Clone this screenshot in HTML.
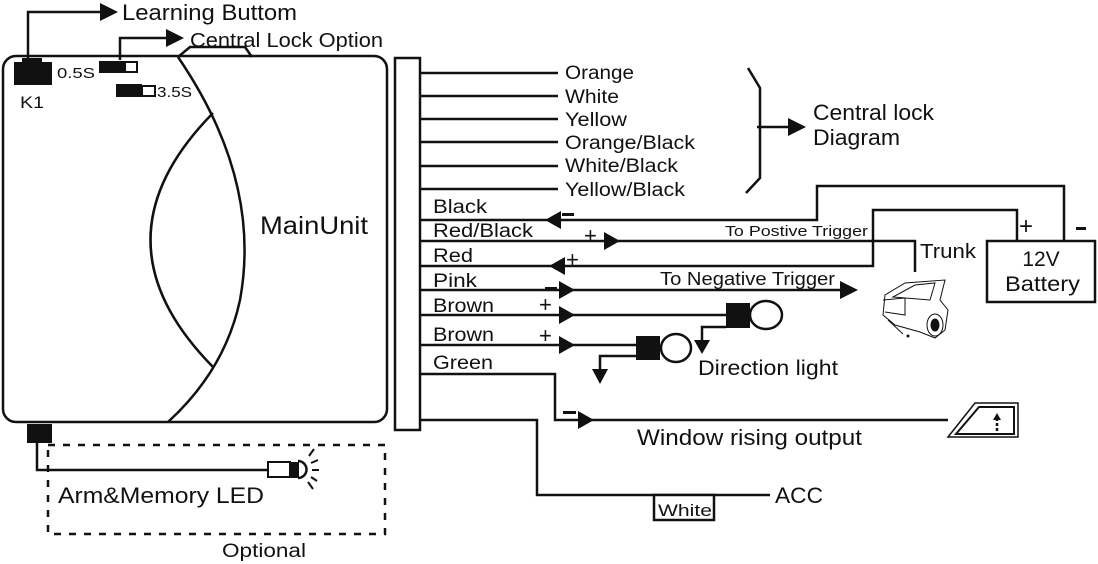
<!DOCTYPE html>
<html><head><meta charset="utf-8"><style>
html,body{margin:0;padding:0;background:#fff;}
svg{display:block;font-family:"Liberation Sans",Arial,sans-serif;}
</style></head><body>
<svg width="1098" height="564" viewBox="0 0 1098 564" xmlns="http://www.w3.org/2000/svg">
<g fill="none" stroke="#111" stroke-width="2.5">
<rect x="3" y="56" width="384" height="366" rx="13"/>
<path d="M178,57 Q262,180 240,300 Q225,370 168,422"/>
<path d="M213,113 Q88,240 213,367"/>
<path d="M178,57 L190,47 L245,47 L252,57"/>
<path d="M28,58 V12 H102"/>
<path d="M120,60 V38 H168"/>
<rect x="125" y="62" width="12" height="10" stroke-width="2" fill="#fff"/>
<rect x="142" y="86" width="13" height="10" stroke-width="2" fill="#fff"/>
<rect x="395" y="58" width="25" height="372"/>
<path d="M420,73H558M420,96H558M420,119H558M420,142H558M420,166H558M420,189H558"/>
<path d="M748,68 L760,88 V178 L746,193 M757,127 H790"/>
<path d="M420,220 H817 V186 H1064 V241"/>
<path d="M420,241 H915 V272"/>
<path d="M420,266 H873 V210 H1017 V241"/>
<path d="M420,290 H842"/>
<path d="M420,315 H726"/>
<path d="M726,327 H702 V343"/>
<path d="M420,345 H636"/>
<path d="M636,356 H600 V372"/>
<path d="M420,374 H555 V420 H948"/>
<path d="M420,420 H537 V495 H770"/>
<rect x="987" y="241" width="108" height="61"/>
<ellipse cx="766" cy="315" rx="16" ry="14"/>
<ellipse cx="676" cy="348" rx="15" ry="14"/>
<rect x="654" y="495" width="60" height="25" fill="#fff"/>
<path d="M37,440 V470 H268"/>
<rect x="268" y="462" width="22" height="15" stroke-width="2"/>
<path d="M298,461 A8,8 0 0 1 298,478" stroke-width="2.5"/>
<path d="M309,456 L314,449 M311,463 L318,460 M312,470 L319,470 M311,477 L317,481 M308,482 L313,489" stroke-width="2"/>
<rect x="48" y="445" width="337" height="89" stroke-dasharray="7,8"/>
<path d="M948,437 L975,403 H1018 V437 Z" stroke-width="1.5"/>
<path d="M956,434 L979,407 H1014 V434 Z" stroke-width="2"/>
<path d="M997,431 V420" stroke-width="2.5" stroke-dasharray="3,2"/>
<g stroke-width="1">
<path d="M885,295 L905,283 L945,280 L940,300 L948,310 L945,330 L935,338 L920,332 L895,325 L883,315 Z"/>
<path d="M893,297 L915,285 L935,283 L930,300 Z"/>
<path d="M883,300 L905,298 L905,315 L885,312"/>
<ellipse cx="935" cy="325" rx="8" ry="11"/>
<ellipse cx="935" cy="325" rx="4" ry="6" fill="#111"/>
<path d="M888,320 L903,334"/>
</g>
</g>
<g fill="#111" stroke="none">
<rect x="22" y="58" width="20" height="5"/>
<rect x="14" y="62" width="38" height="23"/>
<rect x="99" y="61" width="26" height="12"/>
<rect x="116" y="84" width="26" height="13"/>
<rect x="27" y="424" width="25" height="19"/>
<rect x="290" y="462" width="9" height="16"/>
<rect x="726" y="303" width="24" height="25"/>
<rect x="636" y="336" width="24" height="24"/>
<path d="M100,3 L118,12 L100,21 Z"/>
<path d="M166,29 L184,38 L166,47 Z"/>
<path d="M788,118 L806,127 L788,136 Z"/>
<path d="M545,220 L561,211 L561,229 Z"/>
<path d="M620,241 L604,232 L604,250 Z"/>
<path d="M549,266 L565,257 L565,275 Z"/>
<path d="M575,290 L559,281 L559,299 Z"/>
<path d="M840,281 L858,290 L840,299 Z"/>
<path d="M575,315 L559,306 L559,324 Z"/>
<path d="M575,345 L559,336 L559,354 Z"/>
<path d="M594,420 L578,411 L578,429 Z"/>
<path d="M694,340 L710,340 L702,354 Z"/>
<path d="M592,369 L608,369 L600,384 Z"/>
<path d="M997,413 L993,420 H1001 Z"/>
<rect x="562" y="213" width="12" height="3"/>
<rect x="545" y="287" width="12" height="3"/>
<rect x="563" y="411" width="13" height="3"/>
<rect x="1076" y="227" width="10" height="3"/>
<circle cx="908" cy="336" r="1.5"/>
</g>
<g fill="#111" lengthAdjust="spacingAndGlyphs">
<text x="122" y="20" font-size="22" textLength="175" lengthAdjust="spacingAndGlyphs">Learning Buttom</text>
<text x="190" y="47" font-size="20" textLength="193" lengthAdjust="spacingAndGlyphs">Central Lock Option</text>
<text x="57" y="78" font-size="15" textLength="38" lengthAdjust="spacingAndGlyphs">0.5S</text>
<text x="157" y="97" font-size="15" textLength="35" lengthAdjust="spacingAndGlyphs">3.5S</text>
<text x="20" y="108" font-size="17" textLength="24" lengthAdjust="spacingAndGlyphs">K1</text>
<text x="260" y="234" font-size="25" textLength="108" lengthAdjust="spacingAndGlyphs">MainUnit</text>
<text x="565" y="79" font-size="19" textLength="69" lengthAdjust="spacingAndGlyphs">Orange</text>
<text x="565" y="103" font-size="19" textLength="54" lengthAdjust="spacingAndGlyphs">White</text>
<text x="565" y="126" font-size="19" textLength="62" lengthAdjust="spacingAndGlyphs">Yellow</text>
<text x="565" y="149" font-size="19" textLength="130" lengthAdjust="spacingAndGlyphs">Orange/Black</text>
<text x="565" y="172" font-size="19" textLength="113" lengthAdjust="spacingAndGlyphs">White/Black</text>
<text x="565" y="196" font-size="19" textLength="120" lengthAdjust="spacingAndGlyphs">Yellow/Black</text>
<text x="813" y="120" font-size="22" textLength="121" lengthAdjust="spacingAndGlyphs">Central lock</text>
<text x="813" y="145" font-size="22" textLength="87" lengthAdjust="spacingAndGlyphs">Diagram</text>
<text x="433" y="213" font-size="19" textLength="54" lengthAdjust="spacingAndGlyphs">Black</text>
<text x="433" y="237" font-size="19" textLength="100" lengthAdjust="spacingAndGlyphs">Red/Black</text>
<text x="433" y="262" font-size="19" textLength="40" lengthAdjust="spacingAndGlyphs">Red</text>
<text x="433" y="287" font-size="19" textLength="44" lengthAdjust="spacingAndGlyphs">Pink</text>
<text x="433" y="312" font-size="19" textLength="61" lengthAdjust="spacingAndGlyphs">Brown</text>
<text x="433" y="341" font-size="19" textLength="61" lengthAdjust="spacingAndGlyphs">Brown</text>
<text x="433" y="369" font-size="19" textLength="60" lengthAdjust="spacingAndGlyphs">Green</text>
<text x="584" y="243" font-size="22">+</text>
<text x="566" y="267" font-size="22">+</text>
<text x="539" y="312" font-size="22">+</text>
<text x="539" y="343" font-size="22">+</text>
<text x="725" y="236" font-size="15" textLength="143" lengthAdjust="spacingAndGlyphs">To Postive Trigger</text>
<text x="660" y="285" font-size="18" textLength="175" lengthAdjust="spacingAndGlyphs">To Negative Trigger</text>
<text x="920" y="258" font-size="20" textLength="56" lengthAdjust="spacingAndGlyphs">Trunk</text>
<text x="1019" y="234" font-size="24">+</text>
<text x="1041" y="266" font-size="21" text-anchor="middle">12V</text>
<text x="1005" y="291" font-size="21" textLength="75" lengthAdjust="spacingAndGlyphs">Battery</text>
<text x="698" y="375" font-size="21" textLength="140" lengthAdjust="spacingAndGlyphs">Direction light</text>
<text x="637" y="445" font-size="22" textLength="225" lengthAdjust="spacingAndGlyphs">Window rising output</text>
<text x="658" y="516" font-size="17" textLength="54" lengthAdjust="spacingAndGlyphs">White</text>
<text x="775" y="503" font-size="22" textLength="48" lengthAdjust="spacingAndGlyphs">ACC</text>
<text x="58" y="503" font-size="22" textLength="206" lengthAdjust="spacingAndGlyphs">Arm&amp;Memory LED</text>
<text x="222" y="557" font-size="19" textLength="84" lengthAdjust="spacingAndGlyphs">Optional</text>
</g>
</svg>
</body></html>
